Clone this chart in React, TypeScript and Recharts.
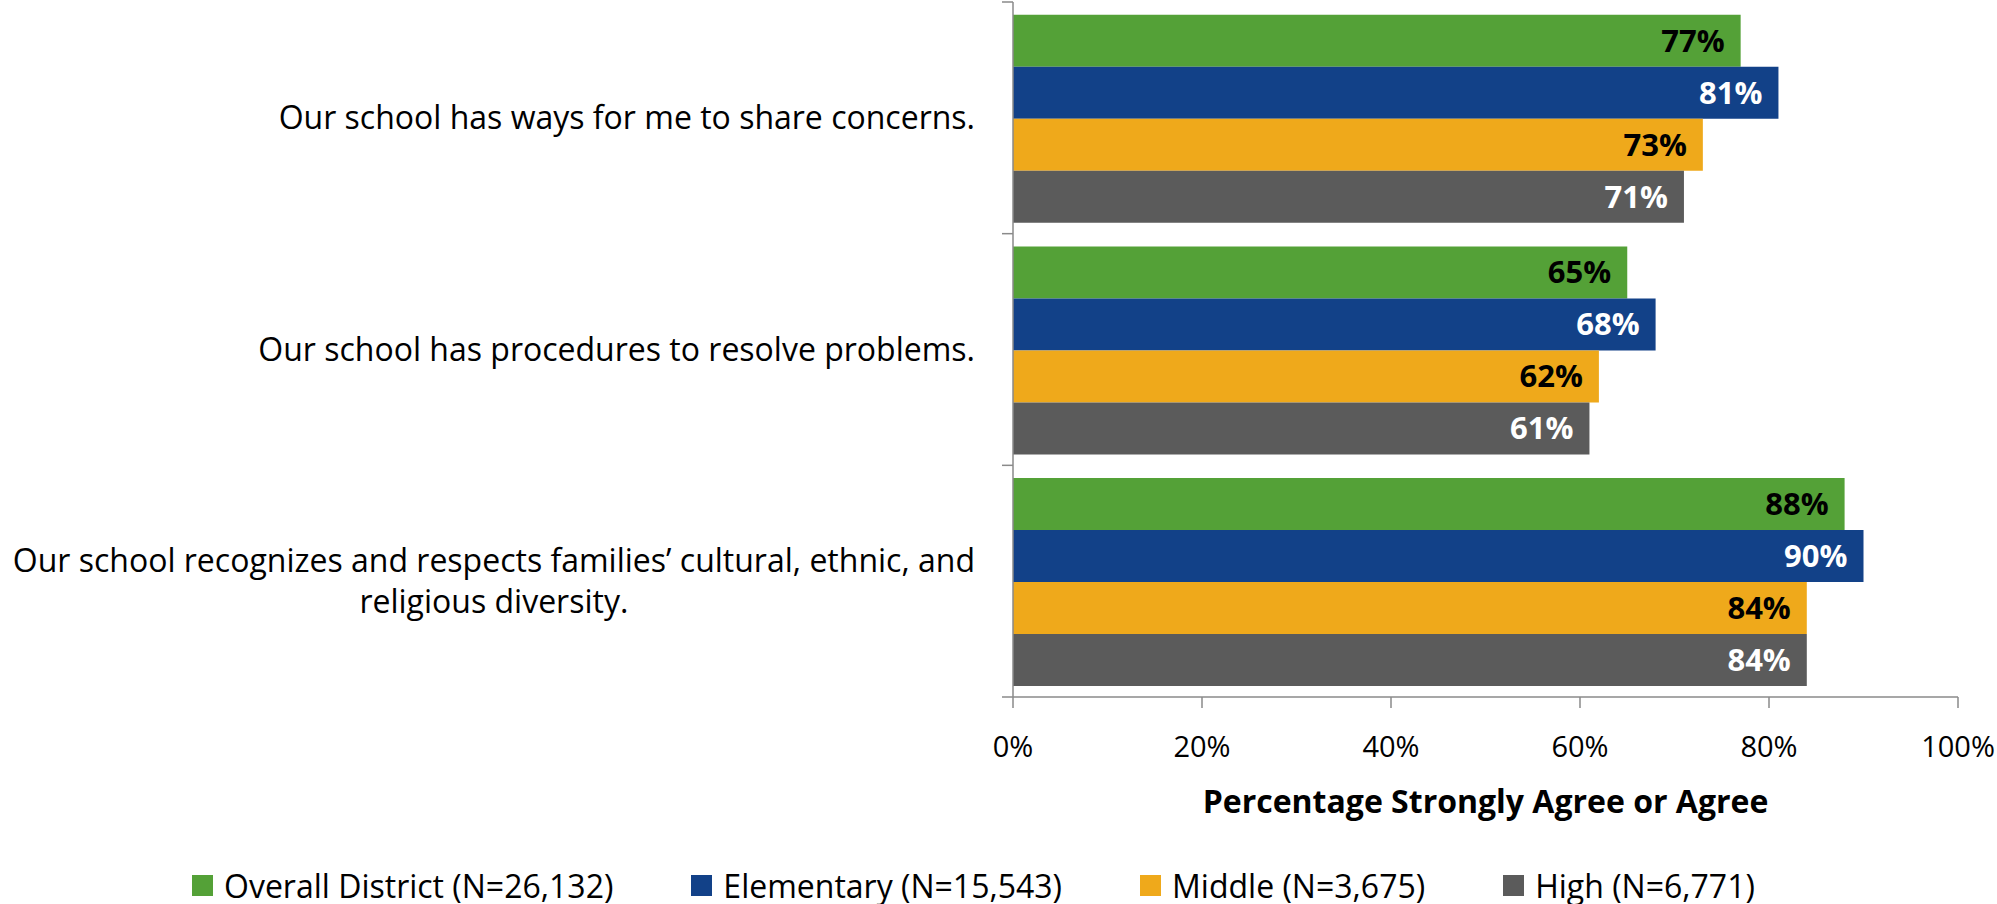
import React from 'react';
import { BarChart, Bar, XAxis, YAxis, Legend, LabelList } from 'recharts';

const categories = [
  'Our school has ways for me to share concerns.',
  'Our school has procedures to resolve problems.',
  'Our school recognizes and respects families\u2019 cultural, ethnic, and religious diversity.',
];
const overallDistrict = [77, 65, 88];
const elementary = [81, 68, 90];
const middle = [73, 62, 84];
const high = [71, 61, 84];
const seriesNames = [
  'Overall District (N=26,132)',
  'Elementary (N=15,543)',
  'Middle (N=3,675)',
  'High (N=6,771)',
];
const xTicks = [0, 20, 40, 60, 80, 100];
const axisTitle = 'Percentage Strongly Agree or Agree';

const FONT = 'Open Sans';
const FS = 32;
const TICK_FS = 29;
const LABEL_FS = 31;
const LINE_H = 41;
const AXIS_COLOR = '#8a8a8a';
const colors = ['#54a137', '#124188', '#efa91b', '#5b5b5b'];
const labelColors = ['#000000', '#ffffff', '#000000', '#ffffff'];
const keys = ['overall', 'elementary', 'middle', 'high'];

const data = categories.map((c, i) => ({
  question: c,
  overall: overallDistrict[i],
  elementary: elementary[i],
  middle: middle[i],
  high: high[i],
}));

let ctx: CanvasRenderingContext2D | null = null;
function measure(text: string): number {
  if (!ctx && typeof document !== 'undefined') {
    ctx = document.createElement('canvas').getContext('2d');
  }
  if (!ctx) return text.length * FS * 0.5;
  ctx.font = `${FS}px "${FONT}"`;
  return ctx.measureText(text).width;
}
function wrap(text: string, maxW: number): string[] {
  const words = text.split(' ');
  const lines: string[] = [];
  let cur = '';
  for (const w of words) {
    const t = cur ? cur + ' ' + w : w;
    if (measure(t) > maxW && cur) {
      lines.push(cur);
      cur = w;
    } else cur = t;
  }
  if (cur) lines.push(cur);
  return lines;
}

const TICK_SIZE = 11;
const TICK_MARGIN = 27;

function CategoryTick(props: any) {
  const { x, y, payload, visibleTicksCount } = props;
  const half = payload.offset || 0;
  const axisX = x + TICK_MARGIN + TICK_SIZE;
  const lines = wrap(String(payload.value), 1000);
  const blockW = Math.max(...lines.map(measure));
  const cx = x - blockW / 2;
  const n = lines.length;
  const isLast = payload.index === visibleTicksCount - 1;
  return (
    <g>
      <line x1={axisX - TICK_SIZE} x2={axisX} y1={y - half} y2={y - half} stroke={AXIS_COLOR} strokeWidth={1.5} />
      {isLast && (
        <line x1={axisX - TICK_SIZE} x2={axisX} y1={y + half} y2={y + half} stroke={AXIS_COLOR} strokeWidth={1.5} />
      )}
      <text textAnchor="middle" fontFamily={FONT} fontSize={FS} fill="#000">
        {lines.map((l, i) => (
          <tspan key={i} x={cx} y={y + (i - (n - 1) / 2) * LINE_H + FS * 0.357}>
            {l}
          </tspan>
        ))}
      </text>
    </g>
  );
}

function renderLegend(props: any) {
  const payload = [...(props.payload || [])].sort(
    (a: any, b: any) => seriesNames.indexOf(a.value) - seriesNames.indexOf(b.value)
  );
  return (
    <div
      style={{
        display: 'flex',
        alignItems: 'center',
        height: 38,
        paddingLeft: 192,
        fontFamily: FONT,
        fontSize: FS,
        color: '#000',
        whiteSpace: 'nowrap',
      }}
    >
      {payload.map((p: any, i: number) => (
        <div key={i} style={{ display: 'flex', alignItems: 'center', marginRight: 78 }}>
          <span style={{ display: 'inline-block', width: 21, height: 21, background: p.color, marginRight: 11 }} />
          <span>{p.value}</span>
        </div>
      ))}
    </div>
  );
}

export default function App() {
  return (
    <div style={{ position: 'absolute', left: 0, top: 0, width: 1997, height: 904, background: '#fff', fontFamily: FONT }}>
      <BarChart
        width={1997}
        height={904}
        data={data}
        layout="vertical"
        margin={{ top: 2, right: 39, left: 0, bottom: 0 }}
        barCategoryGap="5.5%"
        barGap={0}
      >
        <XAxis
          type="number"
          domain={[0, 100]}
          ticks={xTicks}
          tickFormatter={(v: number) => `${v}%`}
          height={169}
          tickSize={TICK_SIZE}
          tickMargin={28}
          axisLine={{ stroke: AXIS_COLOR, strokeWidth: 1.5 }}
          tickLine={{ stroke: AXIS_COLOR, strokeWidth: 1.5 }}
          tick={{ fontFamily: FONT, fontSize: TICK_FS, fill: '#000' }}
          label={{
            value: axisTitle,
            position: 'insideBottom',
            offset: 53,
            fontFamily: FONT,
            fontSize: FS,
            fontWeight: 'bold',
            fill: '#000',
          }}
        />
        <YAxis
          type="category"
          dataKey="question"
          width={1013}
          tickSize={TICK_SIZE}
          tickMargin={TICK_MARGIN}
          tickLine={false}
          axisLine={{ stroke: AXIS_COLOR, strokeWidth: 1.5 }}
          tick={<CategoryTick />}
          interval={0}
        />
        <Legend verticalAlign="bottom" content={renderLegend} wrapperStyle={{ left: 0, width: 1997, height: 38 }} />
        {keys.map((k, i) => (
          <Bar key={k} dataKey={k} name={seriesNames[i]} fill={colors[i]} isAnimationActive={false}>
            <LabelList
              dataKey={k}
              position="insideRight"
              offset={16}
              formatter={(v: any) => `${v}%`}
              fill={labelColors[i]}
              fontFamily={FONT}
              fontSize={LABEL_FS}
              fontWeight="bold"
            />
          </Bar>
        ))}
      </BarChart>
    </div>
  );
}
